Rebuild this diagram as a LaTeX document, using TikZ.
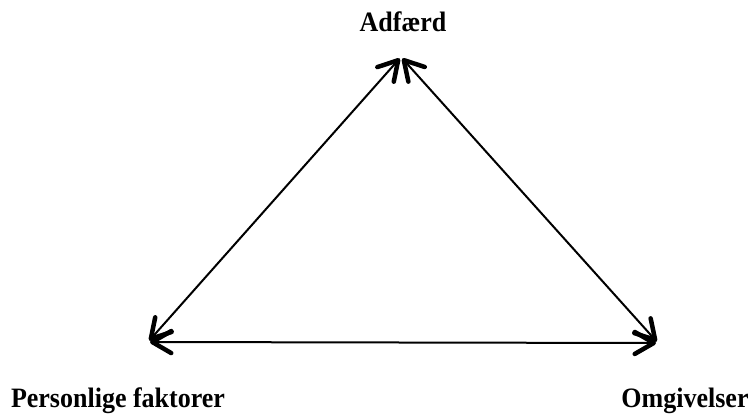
\documentclass[tikz,border=0pt]{standalone}
\usepackage{fontspec}
\setmainfont{Liberation Serif}
\usetikzlibrary{arrows.meta}
\begin{document}
\begin{tikzpicture}[x=1pt,y=-1pt,
  lbl/.style={font=\bfseries\fontsize{26}{30}\selectfont, inner sep=0pt, yscale=1.08},
  rel/.style={line width=2pt, {Straight Barb[length=19pt,width=22pt,line width=4.5pt,round]}-{Straight Barb[length=19pt,width=22pt,line width=4.5pt,round]}, shorten <=2pt, shorten >=2pt}]
\useasboundingbox (0,0) rectangle (755,416);
\coordinate (A) at (401,57);
\coordinate (P) at (148,342);
\coordinate (O) at (658,343);
\draw[rel] (P) -- (A);
\draw[rel] (A) -- (O);
\draw[rel] (P) -- (O);
\node[lbl] (ta) at (403,22) {Adfærd};
\node[lbl] (tp) at (118,401) {Personlige faktorer};
\node[lbl] (to) at (685,401) {Omgivelser};
\end{tikzpicture}
\end{document}
